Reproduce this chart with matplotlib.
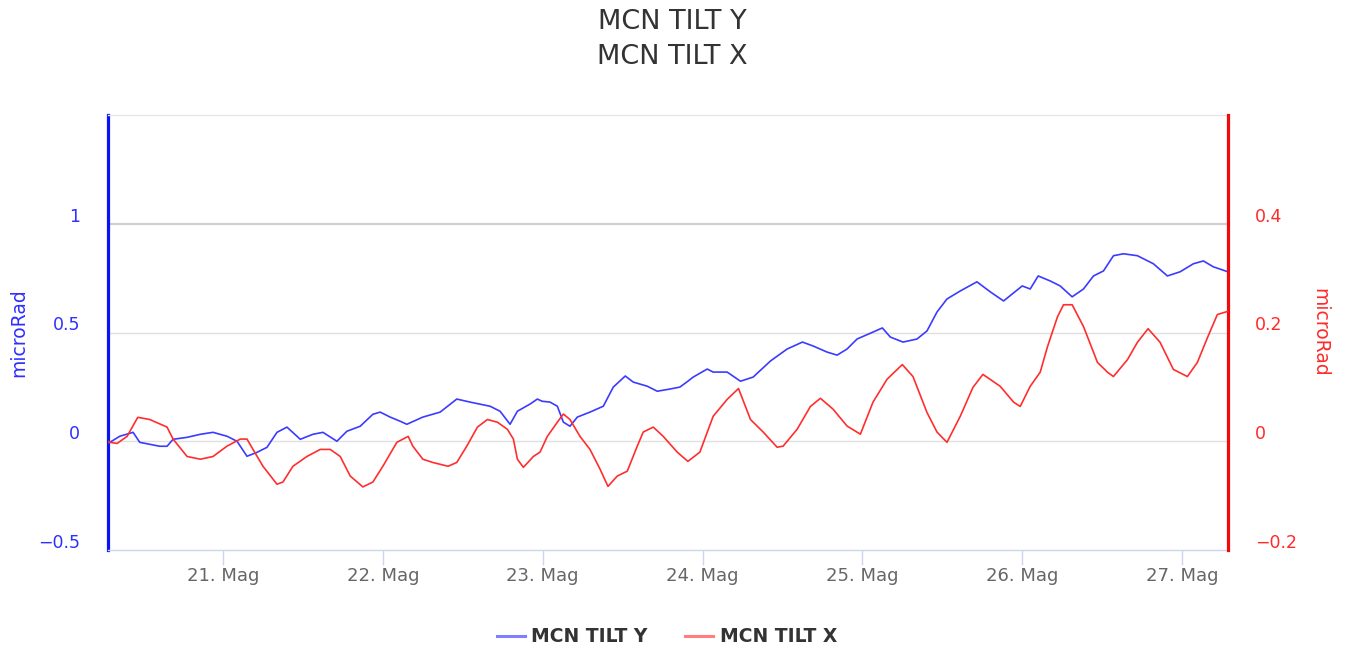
import matplotlib
matplotlib.use("Agg")
import matplotlib.pyplot as plt
import matplotlib.transforms as mtransforms
from matplotlib.lines import Line2D

plt.rcParams['font.family'] = ['DejaVu Sans']

# hours since 20 May 00:00
tilt_y_hours = [6.75, 7.0, 8.5, 10.5, 11.5, 13.0, 14.5, 15.6, 16.5, 18.6, 20.6, 22.5, 24.6, 26.1,
                27.6, 29.1, 30.6, 32.1, 33.6, 35.6, 37.5, 39.0, 41.1, 42.6, 44.6, 46.5, 47.6,
                49.1, 50.6, 51.6, 54.0, 56.6, 59.1, 61.1, 64.1, 65.6, 67.1, 68.2, 70.1, 71.2,
                71.9, 73.1, 74.2, 75.1, 76.1, 77.2, 79.1, 81.1, 82.6, 84.4, 85.6, 87.7, 89.2,
                91.1, 92.6, 93.8, 94.6, 96.7, 97.6, 99.7, 101.7, 103.6, 106.2, 108.7, 111.0,
                112.6, 114.7, 116.2, 117.7, 119.2, 121.6, 123.0, 124.2, 126.1, 128.2, 129.7,
                131.2, 132.7, 134.7, 137.2, 139.2, 141.2, 142.7, 144.0, 145.2, 146.4, 148.2,
                149.7, 151.5, 153.2, 154.7, 156.2, 157.7, 159.2, 161.3, 163.7, 165.8, 167.7,
                169.7, 171.2, 172.7, 174.9]
tilt_y_values = [-0.01, -0.005, 0.023, 0.041, -0.005, -0.014, -0.023, -0.023, 0.009, 0.018, 0.032,
                 0.041, 0.023, 0.0, -0.069, -0.051, -0.028, 0.041, 0.065, 0.009, 0.032, 0.041,
                 0.0, 0.046, 0.069, 0.124, 0.134, 0.111, 0.092, 0.078, 0.111, 0.134, 0.194,
                 0.180, 0.161, 0.138, 0.078, 0.138, 0.171, 0.194, 0.184, 0.180, 0.161, 0.088,
                 0.069, 0.111, 0.134, 0.161, 0.249, 0.300, 0.272, 0.253, 0.230, 0.240, 0.249,
                 0.276, 0.295, 0.332, 0.318, 0.318, 0.276, 0.295, 0.369, 0.424, 0.456, 0.438,
                 0.410, 0.396, 0.424, 0.470, 0.502, 0.521, 0.479, 0.456, 0.470, 0.507, 0.594,
                 0.654, 0.691, 0.733, 0.687, 0.645, 0.682, 0.714, 0.700, 0.760, 0.737, 0.714,
                 0.664, 0.700, 0.760, 0.783, 0.853, 0.862, 0.853, 0.816, 0.760, 0.779, 0.816,
                 0.829, 0.802, 0.779]

tilt_x_hours = [6.75, 7.0, 8.1, 9.6, 11.2, 13.0, 15.6, 16.5, 18.6, 20.6, 22.5, 24.6, 26.6, 27.6,
                28.5, 30.0, 32.1, 33.0, 34.5, 36.6, 38.6, 40.1, 41.6, 43.1, 45.0, 46.5, 48.0,
                50.1, 51.8, 52.5, 54.0, 55.5, 57.8, 59.1, 60.6, 62.2, 63.7, 65.2, 66.7, 67.6,
                68.2, 69.1, 70.6, 71.6, 72.7, 74.2, 75.1, 76.1, 77.6, 79.1, 80.6, 81.8, 83.2,
                84.7, 86.2, 87.1, 88.6, 90.1, 92.2, 93.8, 95.6, 97.6, 99.7, 101.4, 103.2,
                105.1, 107.2, 108.1, 110.2, 112.2, 113.7, 115.6, 117.7, 119.7, 121.6, 123.7,
                126.0, 127.6, 129.7, 131.2, 132.7, 134.7, 136.6, 138.1, 140.7, 142.7, 143.7,
                145.2, 146.7, 147.8, 149.3, 150.2, 151.5, 153.2, 155.3, 156.8, 157.7, 159.8,
                161.3, 162.9, 164.7, 166.7, 168.8, 170.3, 171.9, 173.3, 174.9]
tilt_x_values = [0.0, -0.002, -0.004, 0.009, 0.044, 0.040, 0.026, 0.004, -0.028, -0.033, -0.028,
                 -0.009, 0.004, 0.004, -0.015, -0.046, -0.079, -0.075, -0.046, -0.028, -0.015,
                 -0.015, -0.028, -0.064, -0.084, -0.075, -0.046, -0.002, 0.009, -0.009, -0.033,
                 -0.039, -0.046, -0.039, -0.009, 0.026, 0.040, 0.035, 0.022, 0.004, -0.033,
                 -0.048, -0.028, -0.020, 0.009, 0.035, 0.050, 0.040, 0.009, -0.015, -0.051,
                 -0.083, -0.064, -0.055, -0.009, 0.017, 0.026, 0.009, -0.020, -0.037, -0.020,
                 0.046, 0.077, 0.097, 0.040, 0.017, -0.011, -0.009, 0.022, 0.064, 0.079, 0.059,
                 0.028, 0.013, 0.072, 0.114, 0.141, 0.119, 0.053, 0.017, -0.002, 0.046, 0.099,
                 0.123, 0.101, 0.072, 0.064, 0.101, 0.127, 0.174, 0.229, 0.251, 0.251, 0.211,
                 0.145, 0.127, 0.119, 0.150, 0.182, 0.207, 0.182, 0.132, 0.119, 0.145, 0.193,
                 0.233, 0.239]

day_ticks = [24, 48, 72, 96, 120, 144, 168]
day_labels = ["21. Mag", "22. Mag", "23. Mag", "24. Mag", "25. Mag", "26. Mag", "27. Mag"]
left_ticks = [-0.5, 0, 0.5, 1]
left_labels = ["\u22120.5", "0", "0.5", "1"]
right_ticks = [-0.2, 0, 0.2, 0.4]
right_labels = ["\u22120.2", "0", "0.2", "0.4"]

BLUE = "#3b3bff"
RED = "#ff2e2e"
AXBLUE = "#0a14f0"
AXRED = "#f00a0a"
LBLUE = "#2f2fff"
LRED = "#ff2a2a"
GREY = "#666666"

fig = plt.figure(figsize=(13.45, 6.5), dpi=100)
ax = fig.add_axes([108/1345, 100/650, 1120/1345, 435/650])
ax2 = ax.twinx()

ax.set_xlim(6.73, 174.9)
ax.set_ylim(-0.5, 1.5)
ax2.set_ylim(-0.2, 0.6)

ax.plot(tilt_y_hours, tilt_y_values, color=BLUE, lw=1.2, zorder=3)
ax2.plot(tilt_x_hours, tilt_x_values, color=RED, lw=1.2, zorder=3)

# grid lines
for v in [0, 0.5]:
    ax.axhline(v, color="#e0e0e0", lw=1.0, zorder=1)
ax.axhline(1.0, color="#d0d0d0", lw=1.6, zorder=1)

ax.spines["right"].set_visible(False)
ax.spines["top"].set_color("#e6e6e6")
ax.spines["top"].set_linewidth(1.0)
ax.spines["bottom"].set_color("#ccd6eb")
ax.spines["bottom"].set_linewidth(1.0)
ax.spines["left"].set_color(AXBLUE)
ax.spines["left"].set_linewidth(2.3)
for s in ["left", "top", "bottom"]:
    ax2.spines[s].set_visible(False)
ax2.spines["right"].set_color(AXRED)
ax2.spines["right"].set_linewidth(2.3)

ax.set_xticks(day_ticks)
ax.set_xticklabels(day_labels)
ax.tick_params(axis="x", direction="out", length=11, width=1, color="#ccd6eb",
               labelcolor=GREY, labelsize=13, pad=1.5)

ax.set_yticks(left_ticks)
ax.set_yticklabels(left_labels)
ax.tick_params(axis="y", length=0, labelcolor=LBLUE, labelsize=12.5, pad=20)
ax2.set_yticks(right_ticks)
ax2.set_yticklabels(right_labels)
ax2.tick_params(axis="y", length=0, labelcolor=LRED, labelsize=12.5, pad=19.5)

offset = mtransforms.ScaledTranslation(0, 9/100, fig.dpi_scale_trans)
for lab in ax.get_yticklabels() + ax2.get_yticklabels():
    lab.set_transform(lab.get_transform() + offset)

ax.set_ylabel("microRad", color=LBLUE, fontsize=13.5, va="center")
ax.yaxis.set_label_coords((18.5 - 108) / 1120, 0.5)
ax2.set_ylabel("microRad", color=LRED, fontsize=13.5, rotation=270, va="center")
ax2.yaxis.set_label_coords((1320 - 108) / 1120, 0.5)

fig.text(672/1345, 1 - 22/650, "MCN TILT Y", ha="center", va="center", fontsize=19.5, color="#333333")
fig.text(672/1345, 1 - 57/650, "MCN TILT X", ha="center", va="center", fontsize=19.5, color="#333333")

handles = [Line2D([], [], color="#7f7fff", lw=2.2), Line2D([], [], color="#ff7f7f", lw=2.2)]
fig.legend(handles, ["MCN TILT Y", "MCN TILT X"], loc="center", bbox_to_anchor=(667/1345, 1 - 637/650),
           ncol=2, frameon=False, handlelength=1.5, handletextpad=0.35, columnspacing=2.0,
           prop={"weight": "bold", "size": 13.5}, labelcolor="#333333")

fig.savefig("out.png", dpi=100)
